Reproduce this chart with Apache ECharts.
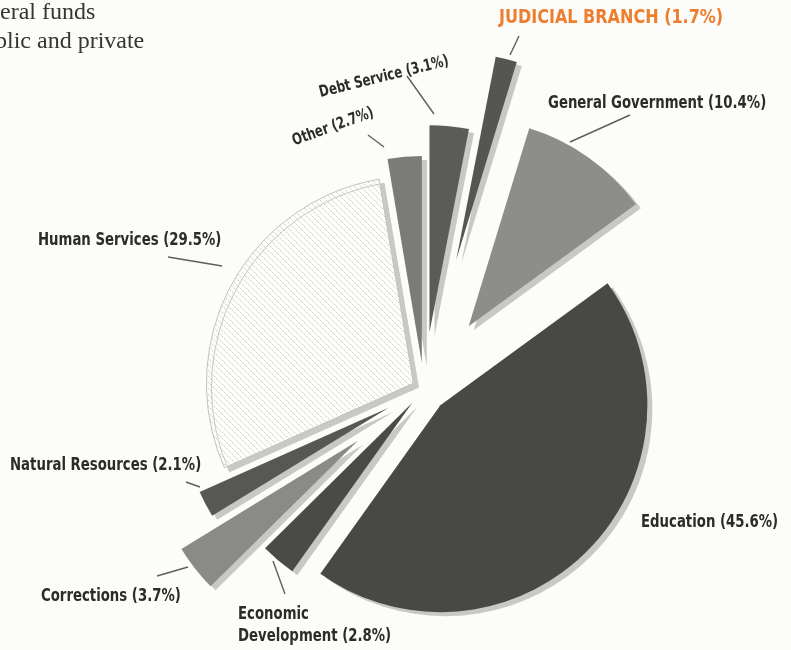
<!DOCTYPE html>
<html>
<head>
<meta charset="utf-8">
<script src="https://cdn.jsdelivr.net/npm/echarts@6.0.0/dist/echarts.min.js"></script>
<style>
  html, body { margin: 0; padding: 0; background: #fcfcfa; }
  #chart { width: 791px; height: 650px; }
</style>
</head>
<body>
<div id="chart"></div>
<script>
// Budget shares by function, clockwise from the Judicial Branch wedge
const categories = [
  'Judicial Branch', 'General Government', 'Education', 'Economic Development',
  'Corrections', 'Natural Resources', 'Human Services', 'Other', 'Debt Service'
];
const shares = [1.7, 10.4, 45.6, 2.8, 3.7, 2.1, 29.5, 2.7, 3.1];

// Intro text lines (cut off at the left page edge)
const introLines = ['eral funds', 'blic and private'];

// ---- presentation settings ----
const pieCenter = [424, 389];
const pieRadius = 207;
const startAngle = 79;
// how far each wedge is pulled out from the centre, px
const explode = [133, 77, 23, 18, 84, 40, 12, 26, 57];

// white fill with fine diagonal dotted hatching
function hatchTile() {
  const n = 6;
  const c = document.createElement('canvas');
  c.width = n; c.height = n;
  const g = c.getContext('2d');
  g.fillStyle = '#fdfdfb';
  g.fillRect(0, 0, n, n);
  for (let k = 0; k < n; k++) {
    g.fillStyle = k % 2 === 0 ? 'rgba(130,130,128,0.40)' : 'rgba(160,160,158,0.18)';
    g.fillRect(k, k, 1, 1);
  }
  return c;
}

const fills = [
  '#555553', '#8d8d8b', '#484846', '#4a4a48',
  '#8a8a88', '#575755', { image: hatchTile(), repeat: 'repeat' }, '#7b7b79', '#5b5b59'
];

// label anchors: [x, y, align, rotate(deg), fontSize]
const labelSpots = [
  [499, 18, 'left', 0, 20],
  [548, 103, 'left', 0, 18],
  [641, 522, 'left', 0, 18],
  [238, 625, 'left', 0, 18],
  [41, 596, 'left', 0, 18],
  [10, 465, 'left', 0, 18],
  [38, 240, 'left', 0, 18],
  [333, 127, 'center', 20, 16],
  [384, 77, 'center', 14, 16]
];
const leaderLines = [
  [510, 55, 519, 36],
  [570, 142, 630, 115],
  null,
  [273, 561, 285, 594],
  [157, 576, 188, 567],
  [186, 482, 200, 487],
  [168, 257, 222, 266],
  [368, 135, 384, 147],
  [407, 76, 434, 114]
];

const labelFont = '"DejaVu Sans Condensed", "DejaVu Sans", sans-serif';

function labelText(i) {
  let name = categories[i];
  if (i === 0) name = name.toUpperCase();
  if (i === 3) name = name.replace(' ', '\n');
  return name + ' (' + shares[i] + '%)';
}

const total = shares.reduce((a, b) => a + b, 0);
let cum = 0;
const series = categories.map((name, i) => {
  const mid = startAngle - (cum + shares[i] / 2) / total * 360;
  cum += shares[i];
  const rad = mid * Math.PI / 180;
  const cx = pieCenter[0] + explode[i] * Math.cos(rad);
  const cy = pieCenter[1] - explode[i] * Math.sin(rad);
  return {
    type: 'pie',
    silent: true,
    animation: false,
    startAngle: startAngle,
    clockwise: true,
    center: [cx, cy],
    radius: [0, pieRadius],
    emphasis: { disabled: true },
    label: { show: false },
    labelLine: { show: false },
    data: categories.map((n, j) => ({
      name: n,
      value: shares[j],
      itemStyle: j === i ? {
        color: fills[j],
        borderColor: j === 6 ? '#c2c2c0' : 'rgba(0,0,0,0)',
        borderWidth: j === 6 ? 1 : 0,
        shadowColor: '#c8c8c6',
        shadowBlur: 0,
        shadowOffsetX: 5,
        shadowOffsetY: 4
      } : { color: 'rgba(0,0,0,0)', borderWidth: 0, shadowColor: 'rgba(0,0,0,0)' }
    }))
  };
});

// category labels and their short leader strokes
const labelGraphics = [];
categories.forEach((n, i) => {
  const s = labelSpots[i];
  if (leaderLines[i]) {
    const l = leaderLines[i];
    labelGraphics.push({
      type: 'line', silent: true,
      shape: { x1: l[0], y1: l[1], x2: l[2], y2: l[3] },
      style: { stroke: '#5e5e5c', lineWidth: 1.4 }
    });
  }
  labelGraphics.push({
    type: 'text', silent: true,
    x: s[0], y: s[1],
    rotation: s[3] * Math.PI / 180,
    scaleX: i === 0 ? 0.89 : 0.82,
    style: {
      text: labelText(i),
      font: 'bold ' + s[4] + 'px ' + labelFont,
      lineHeight: 22,
      align: s[2],
      verticalAlign: 'middle',
      fill: i === 0 ? '#ee7d2e' : '#2b2b29'
    }
  });
});

const introGraphics = introLines.map((t, k) => ({
  type: 'text', silent: true,
  x: k === 0 ? 0 : -5,
  y: k === 0 ? 1 : 30,
  style: {
    text: t,
    font: '24px "Liberation Serif", serif',
    fill: '#353533'
  }
}));

const chart = echarts.init(document.getElementById('chart'), null, { renderer: 'canvas' });
chart.setOption({
  backgroundColor: '#fcfcfa',
  animation: false,
  graphic: introGraphics.concat(labelGraphics),
  series: series
});
</script>
</body>
</html>
